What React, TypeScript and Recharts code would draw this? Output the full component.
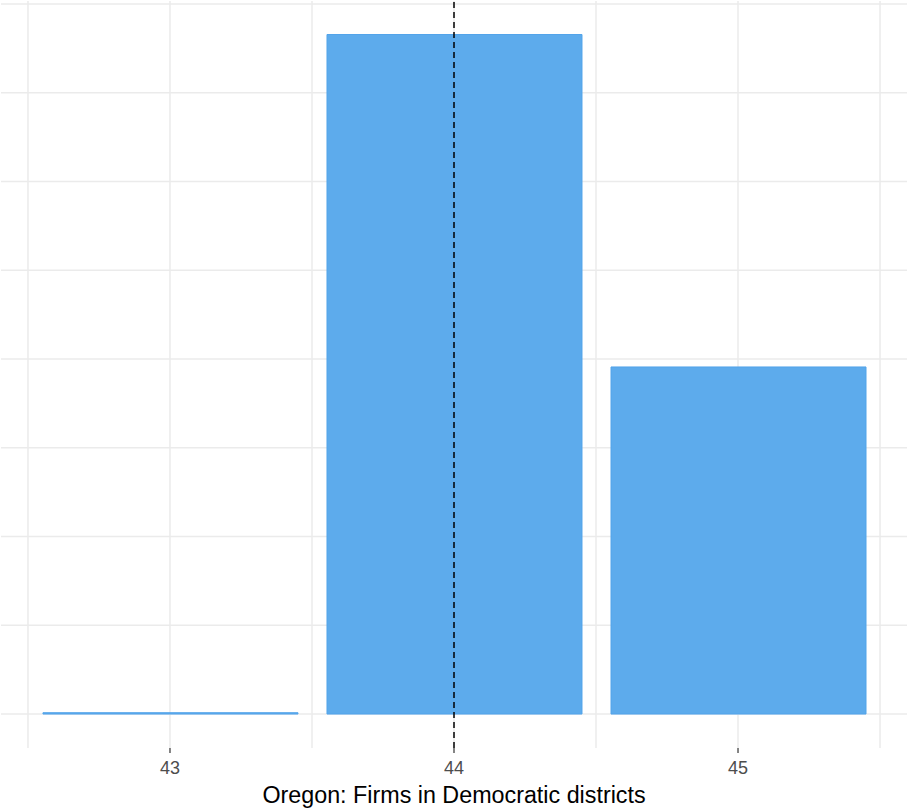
import React from 'react';
import { ComposedChart, Bar, XAxis, YAxis, CartesianGrid, ReferenceLine } from 'recharts';

const districts = [43, 44, 45];
const firmCounts = [0.015, 7.655, 3.91];
const xTicks = [43, 44, 45];
const xGridValues = [42.5, 43, 43.5, 44, 44.5, 45, 45.5];
const yGridValues = [0, 1, 2, 3, 4, 5, 6, 7, 8];
const meanDistrict = 44;
const xDomain = [42.405, 45.595];
const yDomain = [-0.3825, 8.0325];
const xLabel = 'Oregon: Firms in Democratic districts';

const data = districts.map((d, i) => ({ district: d, count: firmCounts[i] }));

export default function App() {
  return (
    <div style={{ position: 'absolute', left: 0, top: 0 }}>
      <style>{'body{margin:0;}'}</style>
      <ComposedChart
        width={910}
        height={812}
        data={data}
        margin={{ top: 1, right: 3, left: 1, bottom: 0 }}
      >
        <CartesianGrid
          stroke="#EBEBEB"
          strokeWidth={1.5}
          horizontalValues={yGridValues}
          verticalValues={xGridValues}
        />
        <XAxis
          type="number"
          dataKey="district"
          domain={xDomain}
          ticks={xTicks}
          interval={0}
          height={64}
          axisLine={false}
          tickSize={5}
          tickMargin={8}
          tickLine={{ stroke: '#333333', strokeWidth: 1.2 }}
          tick={{ fill: '#4D4D4D', fontSize: 18, fontFamily: 'Liberation Sans, Arial, sans-serif' }}
          label={{
            value: xLabel,
            position: 'insideBottom',
            offset: 9,
            fill: '#000000',
            fontSize: 23.3,
            fontFamily: 'Liberation Sans, Arial, sans-serif',
          }}
        />
        <YAxis type="number" domain={yDomain} hide allowDataOverflow />
        <Bar
          dataKey="count"
          barSize={255}
          fill="#5DABEC"
          stroke="#53A4EA"
          strokeWidth={1}
          isAnimationActive={false}
        />
        <ReferenceLine
          x={meanDistrict}
          stroke="#000000"
          strokeWidth={1.5}
          strokeDasharray="6 4"
        />
      </ComposedChart>
    </div>
  );
}
